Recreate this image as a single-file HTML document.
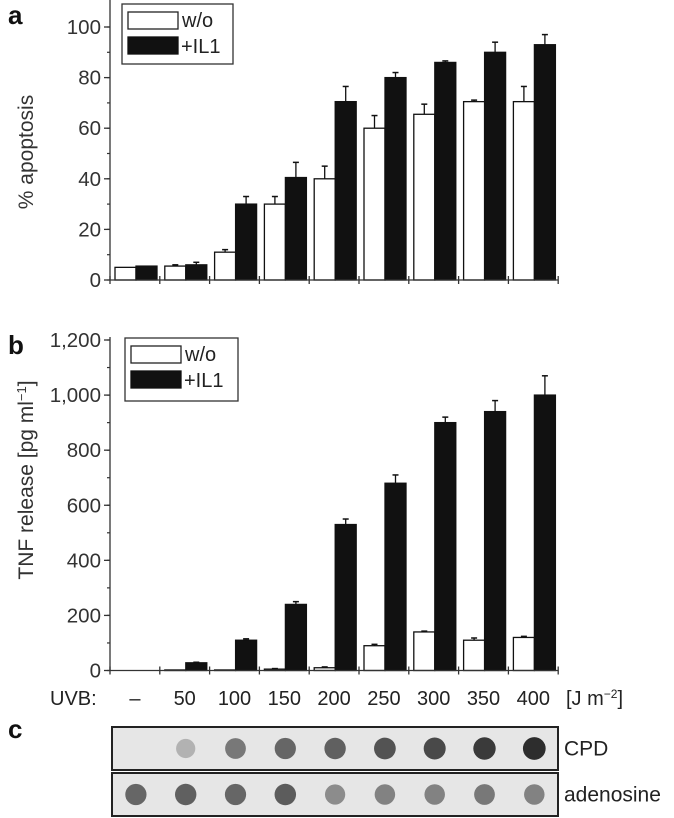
<!DOCTYPE html>
<html><head><meta charset="utf-8"><style>
html,body{margin:0;padding:0;background:#fff;width:674px;height:818px;overflow:hidden}
svg{display:block;font-family:"Liberation Sans",Arial,sans-serif}
</style></head><body>
<svg id="fig" width="674" height="818" viewBox="0 0 674 818"></svg>
<script>
const categories=["–","50","100","150","200","250","300","350","400"];
const apoWo=[5,5.5,11,30,40,60,65.5,70.5,70.5];
const apoWoErr=[0,0.5,1,3,5,5,4,0.6,6];
const apoIl=[5.5,6,30,40.5,70.5,80,86,90,93];
const apoIlErr=[0,1,3,6,6,2,0.6,4,4];
const apoTicks=[0,20,40,60,80,100];
const tnfWo=[0,2,2,5,10,90,140,110,120];
const tnfWoErr=[0,0,0,2,3,5,3,8,4];
const tnfIl=[0,28,110,240,530,680,900,940,1000];
const tnfIlErr=[0,2,5,10,20,30,20,40,70];
const tnfTicks=[0,200,400,600,800,1000,1200];
const tnfTickLabels=["0","200","400","600","800","1,000","1,200"];
const cpdDark=[0,0.25,0.55,0.65,0.68,0.75,0.8,0.88,0.95];
const adenDark=[0.65,0.68,0.65,0.7,0.45,0.5,0.5,0.55,0.5];

const NS="http://www.w3.org/2000/svg";
const svg=document.getElementById('fig');
function mk(tag,attrs,parent,text){const e=document.createElementNS(NS,tag);for(const k in attrs)e.setAttribute(k,attrs[k]);if(text!==undefined)e.textContent=text;(parent||svg).appendChild(e);return e;}
const X0=110,STEP=49.8;
const xBand=i=>X0+i*STEP;

function panel(name,y0,yTop,vmax,ticks,labels,minorStep,wo,woErr,il,ilErr,axisTop,legendBox){
  const g=mk('g',{});
  
  
  const yS=v=>y0-(v/vmax)*(y0-yTop);
  for(let i=0;i<categories.length;i++){
    const bx=xBand(i)+5;
    const hw=yS(wo[i]);
    const r1=mk('rect',{x:bx,y:hw,width:21,height:Math.max(0,y0-hw),fill:'#fff',stroke:'#111','stroke-width':1.3},g);
    
    
    if(woErr[i]>0){const ey=yS(wo[i]+woErr[i]);mk('line',{x1:bx+10.5,x2:bx+10.5,y1:hw,y2:ey,stroke:'#111','stroke-width':1.3},g);mk('line',{x1:bx+7.5,x2:bx+13.5,y1:ey,y2:ey,stroke:'#111','stroke-width':1.5},g);}
    const bx2=bx+21;
    const hi=yS(il[i]);
    const r2=mk('rect',{x:bx2,y:hi,width:21,height:Math.max(0,y0-hi),fill:'#111',stroke:'#111','stroke-width':1.3},g);
    
    
    if(ilErr[i]>0){const ey=yS(il[i]+ilErr[i]);mk('line',{x1:bx2+10.5,x2:bx2+10.5,y1:hi,y2:ey,stroke:'#111','stroke-width':1.3},g);mk('line',{x1:bx2+7.5,x2:bx2+13.5,y1:ey,y2:ey,stroke:'#111','stroke-width':1.5},g);}
  }
  mk('line',{x1:X0,x2:X0,y1:axisTop,y2:y0,stroke:'#333','stroke-width':1.3},g);
  mk('line',{x1:X0,x2:xBand(9),y1:y0,y2:y0,stroke:'#333','stroke-width':1.3},g);
  for(let i=0;i<=9;i++)mk('line',{x1:xBand(i),x2:xBand(i),y1:y0-4,y2:y0+4,stroke:'#333','stroke-width':1.3},g);
  for(let v=0;v<=vmax+minorStep/2;v+=minorStep)mk('line',{x1:X0-3,x2:X0,y1:yS(v),y2:yS(v),stroke:'#333','stroke-width':1.2},g);
  ticks.forEach((v,k)=>{
    mk('line',{x1:X0-6,x2:X0,y1:yS(v),y2:yS(v),stroke:'#333','stroke-width':1.3},g);
    const t=mk('text',{x:X0-9,y:yS(v)+7,'text-anchor':'end','font-size':20.5,fill:'#333'},g,labels[k]);
    
    
  });
  const [lx,ly,lw,lh]=legendBox;
  const lg=mk('g',{},g);
  
  
  mk('rect',{x:lx,y:ly,width:lw,height:lh,fill:'#fff',stroke:'#333','stroke-width':1.3},lg);
  mk('rect',{x:lx+6,y:ly+8,width:50,height:17,fill:'#fff',stroke:'#222','stroke-width':1.3},lg);
  mk('rect',{x:lx+6,y:ly+33,width:50,height:17,fill:'#111',stroke:'#111','stroke-width':1.3},lg);
  mk('text',{x:lx+60,y:ly+23,'font-size':20,fill:'#222'},lg,'w/o');
  mk('text',{x:lx+59,y:ly+49,'font-size':20,fill:'#222'},lg,'+IL1');
  return g;
}
panel('chart-a-apoptosis',280,27,100,apoTicks,apoTicks.map(String),10,apoWo,apoWoErr,apoIl,apoIlErr,0,[122,4,111,60]);
panel('chart-b-tnf',670.5,340,1200,tnfTicks,tnfTickLabels,100,tnfWo,tnfWoErr,tnfIl,tnfIlErr,337,[125,338,113,63]);

let t;
t=mk('text',{x:8,y:24,'font-size':26,'font-weight':'bold',fill:'#111'},svg,'a');
t=mk('text',{x:8,y:354,'font-size':26,'font-weight':'bold',fill:'#111'},svg,'b');
t=mk('text',{x:8,y:738,'font-size':26,'font-weight':'bold',fill:'#111'},svg,'c');
t=mk('text',{x:0,y:0,'font-size':21,fill:'#333','text-anchor':'middle',transform:'translate(33,152) rotate(-90)'},svg,'% apoptosis');

t=mk('text',{x:0,y:0,'font-size':21,fill:'#333','text-anchor':'middle',transform:'translate(33,480) rotate(-90)'},svg);

t.innerHTML='TNF release [pg ml<tspan dy="-7" font-size="13">−1</tspan><tspan dy="7">]</tspan>';
t=mk('text',{x:50,y:705,'font-size':20,fill:'#222'},svg,'UVB:');
categories.forEach((c,i)=>{const e=mk('text',{x:xBand(i)+STEP/2,y:705,'font-size':20,fill:'#222','text-anchor':'middle'},svg,c);
});
t=mk('text',{x:566,y:705,'font-size':20,fill:'#222'},svg);
t.innerHTML='[J m<tspan dy="-7" font-size="12">−2</tspan><tspan dy="7">]</tspan>';
function blot(name,y,h,dark,label){
  const g=mk('g',{});
  
  
  mk('rect',{x:112,y:y,width:446,height:h,fill:'#e6e6e6',stroke:'#222','stroke-width':2},g);
  dark.forEach((d,i)=>{if(d<=0)return;const v=Math.round(225-d*190);
    mk('circle',{cx:xBand(i)+STEP/2+1,cy:y+h/2,r:9+d*2.5,fill:`rgb(${v},${v},${v})`},g);});
  mk('text',{x:564,y:y+h/2+7,'font-size':21,fill:'#222'},g,label);
}
blot('blot-cpd',727,43,cpdDark,'CPD');
blot('blot-adenosine',773,43,adenDark,'adenosine');
</script>
</body></html>
